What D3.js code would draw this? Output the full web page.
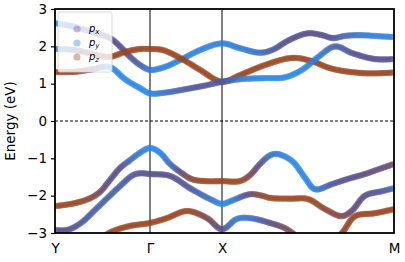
<!DOCTYPE html>
<html><head><meta charset="utf-8">
<script src="https://cdn.jsdelivr.net/npm/d3@7"></script>
<style>body{margin:0;background:#fff}</style>
</head><body><svg id="c" width="405" height="262"></svg>
<script>
const kLabels = ["Y", "Γ", "X", "M"];
const kTicks = [0, 95, 167, 339];
const yTicks = [-3, -2, -1, 0, 1, 2, 3];
const orbitals = ["x", "y", "z"];
// band points: [k, E (eV), orbital weight: 0 = p_y (blue), 0.5 = p_x (mixed), 1 = p_z (brown)]
const bandC1 = [[0,2.62,0.1],[15,2.55,0.2],[35,2.4,0.4],[55,2.22,0.5],[65,2.0,0.5],[75,1.72,0.45],[85,1.5,0.35],[95,1.37,0.1],[110,1.45,0.05],[127,1.66,0.05],[145,1.9,0.05],[167,2.08,0.05],[185,1.95,0.1],[205,1.83,0.2],[217,1.9,0.4],[235,2.18,0.5],[253,2.35,0.5],[267,2.3,0.5],[278,2.22,0.45],[290,2.28,0.3],[305,2.3,0.15],[325,2.27,0.05],[339,2.25,0.05]];
const bandC2 = [[0,1.93,0.1],[20,1.9,0.4],[40,1.78,0.8],[55,1.72,1],[70,1.85,1],[85,1.93,1],[95,1.93,1],[108,1.9,1],[127,1.66,1],[145,1.37,1],[167,1.05,1],[185,1.23,1],[210,1.5,1],[237,1.69,1],[255,1.62,1],[277,1.4,1],[310,1.28,1],[339,1.3,1]];
const bandC3 = [[0,1.31,1],[20,1.32,1],[40,1.4,0.6],[50,1.46,0.2],[57,1.42,0],[70,1.12,0],[85,0.88,0],[95,0.74,0],[110,0.76,0.2],[132,0.86,0.4],[150,0.95,0.45],[167,1.05,0.4],[185,1.12,0.1],[210,1.15,0],[230,1.17,0],[247,1.37,0],[263,1.71,0.1],[280,2.0,0.3],[297,1.82,0.45],[320,1.66,0.5],[339,1.66,0.5]];
const bandV1 = [[0,-2.28,1],[20,-2.2,1],[35,-2.07,0.9],[45,-1.9,0.7],[55,-1.58,0.5],[65,-1.26,0.5],[75,-1.05,0.3],[85,-0.85,0.1],[95,-0.72,0],[105,-0.85,0],[115,-1.15,0.2],[127,-1.4,0.6],[137,-1.56,0.9],[150,-1.61,1],[167,-1.61,1],[185,-1.61,1],[195,-1.45,0.8],[205,-1.15,0.5],[215,-0.92,0.2],[222,-0.88,0.1],[237,-1.07,0],[250,-1.52,0],[260,-1.83,0.1],[277,-1.69,0.4],[293,-1.55,0.5],[310,-1.42,0.55],[327,-1.26,0.6],[339,-1.15,0.65]];
const bandV2 = [[0,-2.92,0.5],[12,-2.92,0.5],[25,-2.75,0.4],[42,-2.33,0.35],[62,-1.82,0.35],[78,-1.45,0.4],[85,-1.4,0.45],[95,-1.42,0.5],[115,-1.47,0.5],[135,-1.8,0.4],[155,-2.09,0.2],[167,-2.22,0],[178,-2.12,0.1],[195,-1.96,0.6],[207,-2.0,0.9],[215,-2.06,1],[235,-2.08,1],[253,-2.09,1],[270,-2.36,0.9],[287,-2.55,0.8],[297,-2.4,0.6],[310,-2.0,0.5],[327,-1.88,0.4],[339,-1.8,0.3]];
const bandV3 = [[45,-3.15,1],[58,-2.95,1],[75,-2.81,1],[95,-2.73,1],[112,-2.6,1],[132,-2.41,1],[152,-2.6,0.8],[167,-2.9,0.5],[182,-2.62,0.1],[195,-2.6,0.2],[215,-2.73,0.5],[230,-2.87,0.7],[240,-3.05,0.8]];
const bandV4 = [[280,-3.15,1],[287,-3.0,1],[300,-2.55,1],[320,-2.47,1],[339,-2.36,1]];
const bands = [bandC1, bandC2, bandC3, bandV1, bandV2, bandV3, bandV4];

const W = 405, H = 262;
const m = {l: 55, r: 11, t: 9, b: 29};
const svg = d3.select("#c");
const x = d3.scaleLinear().domain([0, 339]).range([m.l, W - m.r]);
const y = d3.scaleLinear().domain([-3, 3]).range([H - m.b, m.t]);
const font = "DejaVu Sans, sans-serif";

svg.append("defs").append("clipPath").attr("id", "clip")
  .append("rect").attr("x", m.l).attr("y", m.t).attr("width", W - m.l - m.r).attr("height", H - m.t - m.b);

const colorOf = d3.scaleLinear().domain([0, 0.5, 1]).range(["#2a88e6", "#574f8c", "#9c4620"]).interpolate(d3.interpolateRgb);

const plot = svg.append("g").attr("clip-path", "url(#clip)");
plot.selectAll("line.vl").data(kTicks.slice(1, 3)).join("line")
  .attr("x1", d => x(d)).attr("x2", d => x(d)).attr("y1", m.t).attr("y2", H - m.b)
  .attr("stroke", "#000").attr("stroke-width", 1);
plot.append("line").attr("x1", m.l).attr("x2", W - m.r).attr("y1", y(0)).attr("y2", y(0))
  .attr("stroke", "#000").attr("stroke-width", 1).attr("stroke-dasharray", "3,2");

const line = d3.line().x(d => x(d[0])).y(d => y(d[1])).curve(d3.curveCatmullRom.alpha(0.5));
const helper = svg.append("g").attr("visibility", "hidden");
bands.forEach(b => {
  const p = helper.append("path").attr("d", line(b)).node();
  const L = p.getTotalLength();
  const wAt = d3.scaleLinear().domain(b.map(d => d[0])).range(b.map(d => d[2])).clamp(true);
  const pts = d3.range(0, L, 1).map(s => p.getPointAtLength(s));
  plot.append("g").selectAll("circle").data(pts).join("circle")
    .attr("cx", d => d.x).attr("cy", d => d.y).attr("r", 3.1)
    .attr("fill", d => colorOf(wAt(x.invert(d.x))))
    .attr("fill-opacity", 0.36);
});

svg.append("rect").attr("x", m.l).attr("y", m.t).attr("width", W - m.l - m.r).attr("height", H - m.t - m.b)
  .attr("fill", "none").attr("stroke", "#000").attr("stroke-width", 1.8);

const ya = svg.append("g").attr("transform", `translate(${m.l},0)`)
  .call(d3.axisLeft(y).tickValues(yTicks).tickSize(4).tickPadding(4).tickFormat(d => d < 0 ? "\u2212" + Math.abs(d) : d));
ya.select(".domain").remove();
ya.selectAll("line").attr("stroke-width", 1.2);
ya.selectAll("text").attr("font-family", font).attr("font-size", 13.5).attr("fill", "#000");

const xa = svg.append("g").attr("transform", `translate(0,${H - m.b})`)
  .call(d3.axisBottom(x).tickValues(kTicks).tickSize(0).tickPadding(10).tickFormat((d, i) => kLabels[i]));
xa.select(".domain").remove();
xa.selectAll("text").attr("font-family", font).attr("font-size", 13.5).attr("fill", "#000");

svg.append("text").attr("transform", `translate(15,${y(0)}) rotate(-90)`)
  .attr("text-anchor", "middle").attr("font-family", font).attr("font-size", 13.5).text("Energy (eV)");

const lg = svg.append("g").attr("transform", `translate(${m.l + 3},${m.t + 3})`);
lg.append("rect").attr("width", 54).attr("height", 60).attr("rx", 2)
  .attr("fill", "#fff").attr("fill-opacity", 0.8).attr("stroke", "#d0d0d0").attr("stroke-width", 0.8);
const legCols = ["#9467bd", "#3a9ae8", "#b0623a"];
orbitals.forEach((o, i) => {
  const gy = 17 + i * 14;
  lg.append("circle").attr("cx", 19).attr("cy", gy).attr("r", 3.6).attr("fill", legCols[i]).attr("fill-opacity", 0.45);
  const t = lg.append("text").attr("x", 31).attr("y", gy + 3).attr("font-family", font).attr("font-size", 10);
  t.append("tspan").attr("font-style", "italic").text("p");
  t.append("tspan").attr("font-style", "italic").attr("font-size", 7).attr("dy", 2).text(o);
});
</script></body></html>
